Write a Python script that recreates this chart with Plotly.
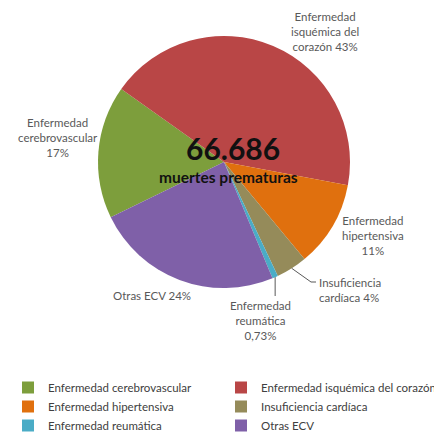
import plotly.graph_objects as go
import math

# Data
categories = ["Enfermedad cerebrovascular", "Enfermedad isquémica del corazón",
              "Enfermedad hipertensiva", "Insuficiencia cardíaca",
              "Enfermedad reumática", "Otras ECV"]
values = [17, 43, 11, 4, 0.73, 24]
colors = ["#7D9E3C", "#B94646", "#E0700E", "#958B5A", "#4AACC6", "#7F60A8"]
label_texts = ["Enfermedad<br>cerebrovascular<br>17%",
               "Enfermedad<br>isquémica del<br>corazón 43%",
               "Enfermedad<br>hipertensiva<br>11%",
               "Insuficiencia<br>cardíaca 4%",
               "Enfermedad<br>reumática<br>0,73%",
               "Otras ECV 24%"]
total_text = "66.686"
sub_text = "muertes prematuras"

W, H = 448, 433
OFF = 8  # page body margin compensation
CX, CY, R = 224, 162, 126
ROT = 244

def px(x):
    return (x - OFF) / W

def py(y):
    return (H - (y - OFF)) / H

fig = go.Figure(go.Pie(
    labels=categories, values=values, sort=False, direction="clockwise",
    rotation=ROT, textinfo="none", hoverinfo="label+percent",
    marker=dict(colors=colors, line=dict(width=0)),
    domain=dict(x=[px(CX - R), px(CX + R)], y=[py(CY + R), py(CY - R)]),
))

# slice mid angles (clockwise from 12 o'clock)
tot = sum(values)
mids = []
acc = 0
for v in values:
    mids.append(ROT + 360 * (acc + v / 2) / tot)
    acc += v

def edge(i, rr=R):
    a = math.radians(mids[i])
    return CX + rr * math.sin(a), CY - rr * math.cos(a)

lab_pos = [(58, 137, "center"), (325, 32, "center"), (373, 235, "center"),
           (317, 290, "left"), (260, 320, "center"), (152, 295, "center")]

anns = []
for (x, y, al), t in zip(lab_pos, label_texts):
    anns.append(dict(x=px(x), y=py(y), xref="paper", yref="paper", text=t,
                     showarrow=False, xanchor=al, yanchor="middle", align=al,
                     font=dict(family="Lato", size=11.5, color="#595959")))

anns.append(dict(x=px(233), y=py(148), xref="paper", yref="paper", text="<b>" + total_text + "</b>",
                 showarrow=False, xanchor="center", yanchor="middle",
                 font=dict(family="Lato", size=30, color="#111111")))
anns.append(dict(x=px(228), y=py(177), xref="paper", yref="paper", text="<b>" + sub_text + "</b>",
                 showarrow=False, xanchor="center", yanchor="middle",
                 font=dict(family="Lato", size=15.5, color="#111111")))

shapes = []
# leader for Insuficiencia cardíaca
x0, y0 = edge(3)
shapes.append(dict(type="path", xref="paper", yref="paper",
                   path=f"M {px(x0)},{py(y0)} L {px(311)},{py(282)} L {px(316)},{py(282)}",
                   line=dict(color="#595959", width=1)))
# leader for Enfermedad reumática
x1, y1 = edge(4)
shapes.append(dict(type="line", xref="paper", yref="paper",
                   x0=px(x1), y0=py(y1), x1=px(x1), y1=py(296),
                   line=dict(color="#595959", width=1)))

fig.update_layout(
    width=W, height=H, margin=dict(l=0, r=0, t=0, b=0, autoexpand=False),
    paper_bgcolor="white", plot_bgcolor="white",
    annotations=anns, shapes=shapes,
    showlegend=True,
    legend=dict(orientation="h", x=0, y=py(373), xanchor="left", yanchor="top",
                entrywidth=168, entrywidthmode="pixels", traceorder="normal",
                font=dict(family="Lato", size=11.5, color="#404040")),
)

fig.write_html("out.html")
